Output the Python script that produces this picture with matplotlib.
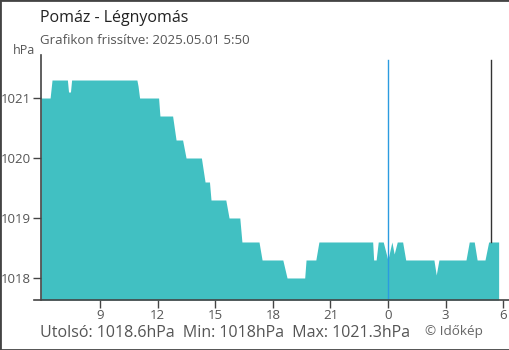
import matplotlib
matplotlib.use("Agg")
import matplotlib.pyplot as plt
from matplotlib.lines import Line2D
from matplotlib.patches import Rectangle

plt.rcParams['font.family'] = ['Open Sans', 'DejaVu Sans']

# --- Data: hours since midnight 2025-04-30 (24+ = next day), pressure in hPa ---
hours = [5.93, 6.40, 6.50, 7.30, 7.36, 7.46, 7.52, 10.92, 10.98, 11.06,
         12.05, 12.12, 12.78, 12.96, 13.30, 13.48, 14.28, 14.47, 14.70, 14.78,
         15.55, 15.72, 16.28, 16.39, 17.28, 17.44, 18.52, 18.74, 19.66, 19.73,
         20.24, 20.40, 23.20, 23.25, 23.38, 23.49, 23.75, 23.99, 24.20, 24.32,
         24.48, 24.76, 24.92, 26.39, 26.51, 26.65, 28.06, 28.23, 28.49, 28.64,
         29.05, 29.24, 29.76]
pressure = [1021.0, 1021.0, 1021.3, 1021.3, 1021.1, 1021.1, 1021.3, 1021.3, 1021.2, 1021.0,
            1021.0, 1020.7, 1020.7, 1020.3, 1020.3, 1020.0, 1020.0, 1019.6, 1019.6, 1019.3,
            1019.3, 1019.0, 1019.0, 1018.6, 1018.6, 1018.3, 1018.3, 1018.0, 1018.0, 1018.3,
            1018.3, 1018.6, 1018.6, 1018.3, 1018.3, 1018.6, 1018.6, 1018.3, 1018.6, 1018.4,
            1018.6, 1018.6, 1018.3, 1018.3, 1018.05, 1018.3, 1018.3, 1018.6, 1018.6, 1018.3,
            1018.3, 1018.6, 1018.6]

xticks = [9, 12, 15, 18, 21, 24, 27, 30]
yticks = [1018, 1019, 1020, 1021]
midnight = 24
marker_time = 29.37

title = "Pomáz - Légnyomás"
subtitle = "Grafikon frissítve: 2025.05.01 5:50"
footer = "Utolsó: 1018.6hPa  Min: 1018hPa  Max: 1021.3hPa"

fill_color = '#41c0c2'
axis_color = '#444444'
label_color = '#555555'

# --- Figure ---
W, H = 510, 350
fig = plt.figure(figsize=(W / 100, H / 100), dpi=100)
ax = fig.add_axes([40.7 / W, 50 / H, (509 - 40.7) / W, (300 - 55) / H])

ymin, ymax = 1017.633, 1021.717
ax.set_xlim(5.91, 30.30)
ax.set_ylim(ymin, ymax)

ax.fill_between(hours, pressure, ymin, color=fill_color, linewidth=0, zorder=2)

# midnight and "now" markers
top_val = 1021.633
ax.plot([midnight, midnight], [ymin, top_val], color='#2b9be0', lw=1, zorder=3)
ax.plot([marker_time, marker_time], [pressure[-1], top_val], color='#333333', lw=1, zorder=3)

for s in ['top', 'right', 'bottom']:
    ax.spines[s].set_visible(False)
ax.spines['left'].set_color(axis_color)
ax.spines['left'].set_linewidth(1.2)

ax.set_xticks(xticks)
ax.set_xticklabels([str(h % 24) for h in xticks])
ax.set_yticks(yticks)
ax.set_yticklabels([str(v) for v in yticks])
ax.tick_params(axis='both', colors=axis_color, labelcolor=label_color,
               labelsize=9.5, length=6, width=1)
ax.tick_params(axis='x', pad=0.5)
ax.tick_params(axis='y', pad=1)
ax.get_xticklines()[2 * xticks.index(midnight)].set_color('#2b9be0')

# bottom axis line running past the y spine
fig.add_artist(Line2D([34 / W, 1], [50 / H, 50 / H], color=axis_color, lw=1.2))

# texts
fig.text(40 / W, 1 - 18 / H, title, fontsize=11.5, color='#222222', va='center')
fig.text(40 / W, 1 - 40 / H, subtitle, fontsize=9.5, color=label_color, va='center')
fig.text(24 / W, 1 - 50 / H, "hPa", fontsize=9, color=label_color, ha='center', va='center')
fig.text(40 / W, 1 - 333 / H, footer, fontsize=11.5, color=label_color, va='center')
fig.text(425 / W, 1 - 331 / H, "© Időkép", fontsize=9.7, color='#666666', va='center')

# outer frame
fig.add_artist(Rectangle((0, 0), 1, 1, transform=fig.transFigure, fill=False,
                         edgecolor='#444444', lw=2))

fig.savefig("out.png", dpi=100)
